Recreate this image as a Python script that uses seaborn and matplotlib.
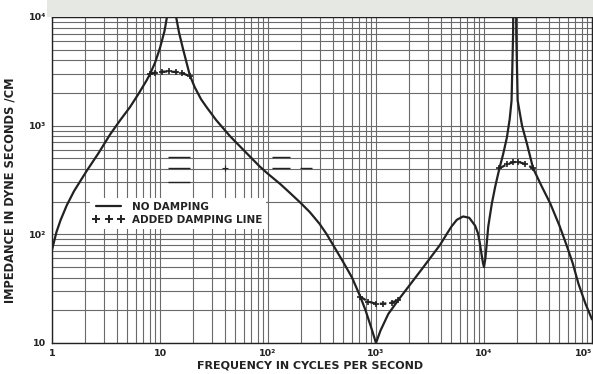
import matplotlib
matplotlib.use("Agg")
import matplotlib.pyplot as plt
from matplotlib.lines import Line2D
from matplotlib.patches import Rectangle
from matplotlib.ticker import LogLocator, NullFormatter
import pandas as pd
import seaborn as sns

# impedance without damping
freq = [1.0, 1.1, 1.2, 1.37, 1.6, 2.1, 2.7, 3.45, 4.3, 5.27, 6.3, 7.5, 8.1, 9, 10, 11,
        11.6, 12.2, 12.9, 13.6, 14.1, 15, 16.4, 18.9, 21, 24, 27, 33, 44.5, 60, 84,
        100, 130, 160, 200, 244, 300, 350, 400, 500, 600, 712, 800, 900, 1000, 1100,
        1300, 1615, 2000, 2750, 3920, 4500, 5000, 5600, 6400, 7300, 8280, 8800, 9150,
        9500, 9800, 10000, 10300, 10950, 11800, 12700, 13900, 15000, 16300, 17300,
        18000, 18600, 19200, 19900, 20500, 22500, 24900, 28500, 34000, 41000, 50000,
        58000, 66000, 75000, 87000, 100000]
impedance = [72, 105, 135, 185, 250, 385, 560, 830, 1130, 1480, 1950, 2600, 3000, 3800,
             5200, 7400, 10000, 20000, 1000000, 20000, 10000, 7200, 5000, 2900, 2250,
             1750, 1480, 1130, 800, 590, 420, 360, 290, 240, 195, 160, 125, 100, 80, 55,
             40, 27, 20, 14, 10, 13, 18.5, 25, 33, 50, 80, 100, 118, 136, 146, 142, 120,
             102, 83, 65, 54, 50, 60, 118, 190, 275, 405, 540, 780, 1150, 1700, 7000,
             1000000, 7000, 1700, 1000, 690, 405, 280, 193, 120, 80, 55, 35, 23, 16.5]

# added damping line, three flattened sections
damp1_f = [8.1, 9, 10.5, 12, 14, 16, 18.9]
damp1_z = [3000, 3080, 3140, 3150, 3120, 3050, 2850]
damp2_f = [712, 850, 1000, 1170, 1400, 1615]
damp2_z = [26.7, 24, 23, 23, 23.5, 25]
damp3_f = [13900, 16300, 18500, 20500, 24000, 28500]
damp3_z = [405, 440, 460, 465, 445, 405]

# leftover strokes on the scan
stray_z = [515, 408, 303, 515, 408, 408]
stray_f0 = [11.8, 11.8, 11.8, 109, 109, 198]
stray_f1 = [18.9, 18.9, 18.9, 160, 160, 255]
stray_plus = (40, 408)

x_ticks = [1, 10, 100, 1000, 1e4, 1e5]
x_labels = ["1", "10", "10²", "10³", "10⁴", "10⁵"]
y_ticks = [10, 100, 1000, 1e4]
y_labels = ["10", "10²", "10³", "10⁴"]

sns.set_theme(style="white")
plt.rcParams["font.family"] = ["DejaVu Sans"]

INK = "#222222"
GRID = "#6a6a6a"

fig = plt.figure(figsize=(5.93, 3.74), dpi=100)
fig.patches.append(Rectangle((0.08, 0.955), 0.92, 0.045, transform=fig.transFigure,
                             facecolor="#e6e8e3", edgecolor="none", zorder=0))
ax = fig.add_axes([0.0877, 0.0829, 0.9106, 0.8717])
ax.set_xscale("log")
ax.set_yscale("log")

main = pd.DataFrame({"f": freq, "z": impedance})
sns.lineplot(data=main, x="f", y="z", ax=ax, color=INK, linewidth=1.6, sort=False)

for f, z in [(damp1_f, damp1_z), (damp2_f, damp2_z), (damp3_f, damp3_z)]:
    sns.lineplot(x=f, y=z, ax=ax, color=INK, linewidth=1.6, linestyle=(0, (3, 1.8)),
                 marker="+", markersize=4, markeredgewidth=1.2,
                 markeredgecolor=INK, sort=False)

ax.hlines(stray_z, stray_f0, stray_f1, color=INK, linewidth=1.0)
ax.plot(*stray_plus, marker="+", color=INK, markersize=4, markeredgewidth=0.8)

ax.set_xlim(1, 1e5)
ax.set_ylim(10, 1e4)
ax.xaxis.set_minor_locator(LogLocator(base=10, subs=range(2, 10)))
ax.yaxis.set_minor_locator(LogLocator(base=10, subs=range(2, 10)))
ax.xaxis.set_minor_formatter(NullFormatter())
ax.yaxis.set_minor_formatter(NullFormatter())
ax.set_xticks(x_ticks, x_labels)
ax.set_yticks(y_ticks, y_labels)
ax.tick_params(which="both", length=0, labelsize=6.8, pad=4, colors=INK)
for lab in ax.get_xticklabels() + ax.get_yticklabels():
    lab.set_fontweight("bold")
ax.get_xticklabels()[-1].set_horizontalalignment("right")
ax.grid(which="both", color=GRID, linewidth=0.8)
for s in ax.spines.values():
    s.set_color(INK)
    s.set_linewidth(1.0)

ax.set_xlabel("FREQUENCY IN CYCLES PER SECOND", fontsize=8, fontweight="bold", color=INK)
ax.xaxis.set_label_coords(0.478, -0.055)
ax.set_ylabel("IMPEDANCE IN DYNE SECONDS /CM", fontsize=8.3, fontweight="bold", color=INK)
ax.yaxis.set_label_coords(-0.066, 0.47)

handles = [Line2D([], [], color=INK, linewidth=1.6),
           Line2D([], [], color=INK, linestyle="none", marker="+", markersize=5.5,
                  markeredgewidth=1.4)]
leg = ax.legend(handles, ["NO DAMPING", "ADDED DAMPING LINE"], loc="upper left",
                bbox_to_anchor=(0.06, 0.46), numpoints=3, handlelength=3.0,
                handletextpad=0.7, labelspacing=0.3, frameon=True, fancybox=False,
                framealpha=1, facecolor="white", edgecolor="none",
                prop={"weight": "bold", "size": 7.5}, borderpad=0.35)
for t in leg.get_texts():
    t.set_color(INK)

fig.savefig("out.png", dpi=100)
